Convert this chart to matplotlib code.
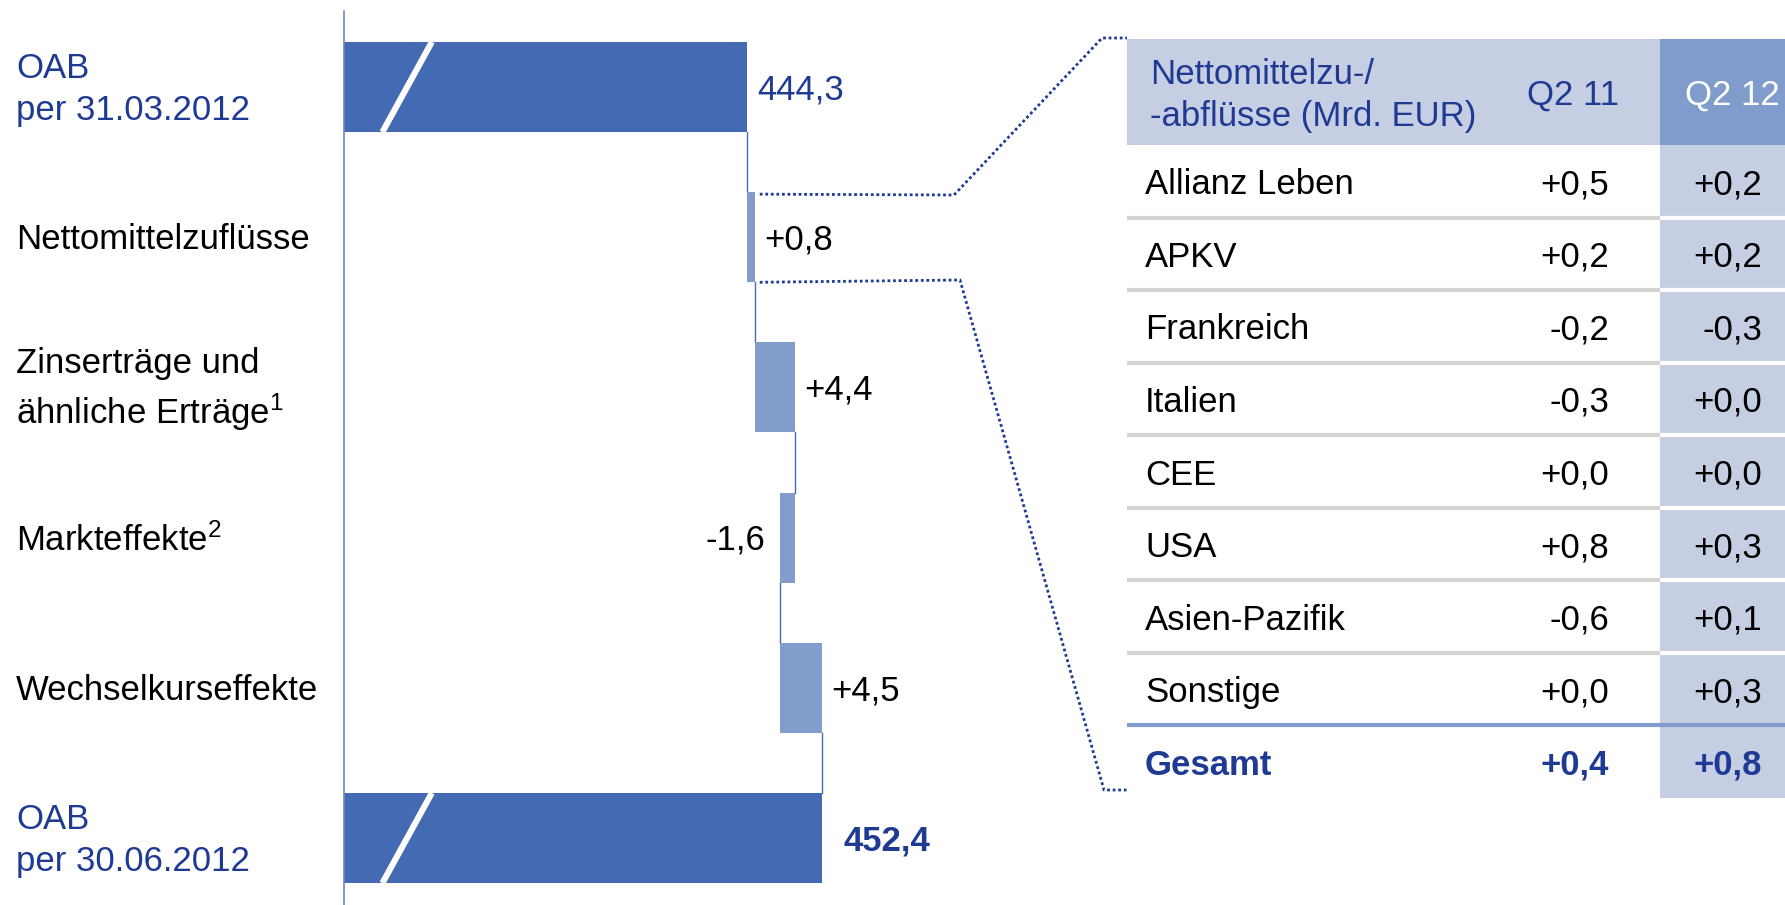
import matplotlib.pyplot as plt
from matplotlib.lines import Line2D
from matplotlib.patches import Rectangle
from matplotlib.transforms import blended_transform_factory, offset_copy

plt.rcParams['font.family'] = ['Liberation Sans', 'DejaVu Sans']
plt.rcParams['mathtext.fontset'] = 'custom'
plt.rcParams['mathtext.rm'] = 'Liberation Sans'
plt.rcParams['mathtext.default'] = 'regular'

# --- Daten: Wasserfall ---
labels = ['OAB\nper 31.03.2012', 'Nettomittelzuflüsse', 'Zinserträge und\nähnliche Erträge$^1$',
          'Markteffekte$^2$', 'Wechselkurseffekte', 'OAB\nper 30.06.2012']
start_value = 444.3
changes = [0.8, 4.4, -1.6, 4.5]
end_value = 452.4

# --- Daten: Tabelle ---
regions = ['Allianz Leben', 'APKV', 'Frankreich', 'Italien', 'CEE', 'USA', 'Asien-Pazifik', 'Sonstige']
q2_11 = [0.5, 0.2, -0.2, -0.3, 0.0, 0.8, -0.6, 0.0]
q2_12 = [0.2, 0.2, -0.3, 0.0, 0.0, 0.3, 0.1, 0.3]
total_q2_11 = 0.4
total_q2_12 = 0.8
col_headers = ['Nettomittelzu-/\n-abflüsse (Mrd. EUR)', 'Q2 11', 'Q2 12']

DARK = '#436AB2'
LIGHT = '#829DCC'
NAVY = '#1F3A93'
PALE = '#C5CEE2'
HEAD = '#7F9CCC'
FS = 25


def de(v, sign=True):
    s = f'{v:+.1f}' if sign else f'{v:.1f}'
    return s.replace('.', ',')


W, H = 1785, 905
fig = plt.figure(figsize=(W / 100, H / 100), dpi=100)

# --- Wasserfall ---
ax = fig.add_axes([344 / W, 0, (1010 - 344) / W, (905 - 11) / H])
lefts, widths, colors = [0], [start_value], [DARK]
ends = [start_value]
total = start_value
for c in changes:
    lefts.append(total if c >= 0 else total + c)
    widths.append(abs(c))
    colors.append(LIGHT)
    total += c
    ends.append(total)
lefts.append(0)
widths.append(end_value)
colors.append(DARK)
ends.append(end_value)

ypos = list(range(len(labels)))
bh = 0.6
ax.barh(ypos, widths, left=lefts, height=bh, color=colors, zorder=2)
x0 = 400.2
ax.set_xlim(x0, 473.0)
ax.set_ylim(5.446, -0.506)

# Achsenbruch-Markierung
for i in (0, len(labels) - 1):
    ax.plot([x0 + 9.6, x0 + 4.2], [i - bh / 2, i + bh / 2], color='white', lw=4.4,
            solid_capstyle='butt', zorder=3)

# Verbindungslinien
for i in range(len(labels) - 1):
    ax.plot([ends[i], ends[i]], [i + bh / 2, i + 1 - bh / 2], color='#4A6AB0', lw=1, zorder=1)

# Wertebeschriftung
value_texts = [de(start_value, False)] + [de(c) for c in changes] + [de(end_value, False)]
for i, t in enumerate(value_texts):
    first_last = i in (0, len(labels) - 1)
    col = NAVY if first_last else 'black'
    weight = 'bold' if i == len(labels) - 1 else 'normal'
    if i == 0 or i == len(labels) - 1 or changes[i - 1] >= 0:
        off = 16 if weight == 'bold' else 7
        ax.annotate(t, (lefts[i] + widths[i], i), xytext=(off, -2), textcoords='offset points',
                    ha='left', va='center', fontsize=FS, color=col, fontweight=weight)
    else:
        ax.annotate(t, (lefts[i], i), xytext=(-11, -2), textcoords='offset points',
                    ha='right', va='center', fontsize=FS, color=col)

trans = offset_copy(blended_transform_factory(fig.transFigure, ax.transData),
                    fig=fig, y=-2.5, units='dots')
for i, lab in enumerate(labels):
    col = NAVY if i in (0, len(labels) - 1) else 'black'
    ax.text(16 / W, i, lab, transform=trans, ha='left', va='center', fontsize=FS,
            color=col, linespacing=1.35)

for s in ('top', 'right', 'bottom'):
    ax.spines[s].set_visible(False)
ax.spines['left'].set_color('#6F87BF')
ax.spines['left'].set_linewidth(1.2)
ax.set_xticks([])
ax.set_yticks([])

# --- Tabelle ---
tx0, ty0, ty1 = 1127, 39, 798
tab = fig.add_axes([tx0 / W, 1 - ty1 / H, (W - tx0) / W, (ty1 - ty0) / H])
tw = W - tx0
th = ty1 - ty0
tab.set_xlim(0, tw)
tab.set_ylim(th, 0)
tab.axis('off')
tt = offset_copy(tab.transData, fig=fig, y=-3.5, units='dots')

head_h = 106
row_h = (th - head_h) / (len(regions) + 1)
c12 = 533
tab.add_patch(Rectangle((0, 0), c12, head_h, color=PALE, lw=0))
tab.add_patch(Rectangle((c12, 0), tw - c12, head_h, color=HEAD, lw=0))
tab.add_patch(Rectangle((c12, head_h), tw - c12, th - head_h, color=PALE, lw=0))

tab.text(23, head_h / 2, col_headers[0], ha='left', va='center', fontsize=FS, color=NAVY,
         linespacing=1.35, transform=tt)
tab.text(446, head_h / 2, col_headers[1], ha='center', va='center', fontsize=FS, color=NAVY,
         transform=tt)
tab.text(605, head_h / 2, col_headers[2], ha='center', va='center', fontsize=FS, color='white',
         transform=tt)

for k, name in enumerate(regions):
    yc = head_h + row_h * (k + 0.5)
    tab.text(18, yc, name, ha='left', va='center', fontsize=FS, color='black', transform=tt)
    tab.text(482, yc, de(q2_11[k]), ha='right', va='center', fontsize=FS, color='black', transform=tt)
    tab.text(635, yc, de(q2_12[k]), ha='right', va='center', fontsize=FS, color='black', transform=tt)
    yb = head_h + row_h * (k + 1)
    if k < len(regions) - 1:
        tab.plot([0, c12], [yb, yb], color='#D3D3D3', lw=3, solid_capstyle='butt')
        tab.plot([c12, tw], [yb, yb], color='white', lw=3, solid_capstyle='butt')
    else:
        tab.plot([0, tw], [yb, yb], color=LIGHT, lw=3, solid_capstyle='butt')

yc = head_h + row_h * (len(regions) + 0.5)
tab.text(18, yc, 'Gesamt', ha='left', va='center', fontsize=FS, color=NAVY, fontweight='bold',
         transform=tt)
tab.text(482, yc, de(total_q2_11), ha='right', va='center', fontsize=FS, color=NAVY,
         fontweight='bold', transform=tt)
tab.text(635, yc, de(total_q2_12), ha='right', va='center', fontsize=FS, color=NAVY,
         fontweight='bold', transform=tt)

# --- gepunktete Verbindung Balken -> Tabelle ---
inv = fig.transFigure.inverted()
bx, btop = ax.transData.transform((ends[1], 1 - bh / 2))
_, bbot = ax.transData.transform((ends[1], 1 + bh / 2))
sx = bx + 5


def fpt(px, py_disp):
    return inv.transform((px, py_disp))


top_pts = [(sx, btop - 2), (954, H - 195), (1102, H - 38), (tx0, H - 38)]
bot_pts = [(sx, bbot), (960, H - 280), (1104, H - 790), (tx0, H - 790)]
for pts in (top_pts, bot_pts):
    fp = [fpt(px, py) for px, py in pts]
    fig.add_artist(Line2D([p[0] for p in fp], [p[1] for p in fp], transform=fig.transFigure,
                          color=NAVY, lw=2, linestyle=(0, (1, 1))))

plt.savefig('out.png', dpi=100)
